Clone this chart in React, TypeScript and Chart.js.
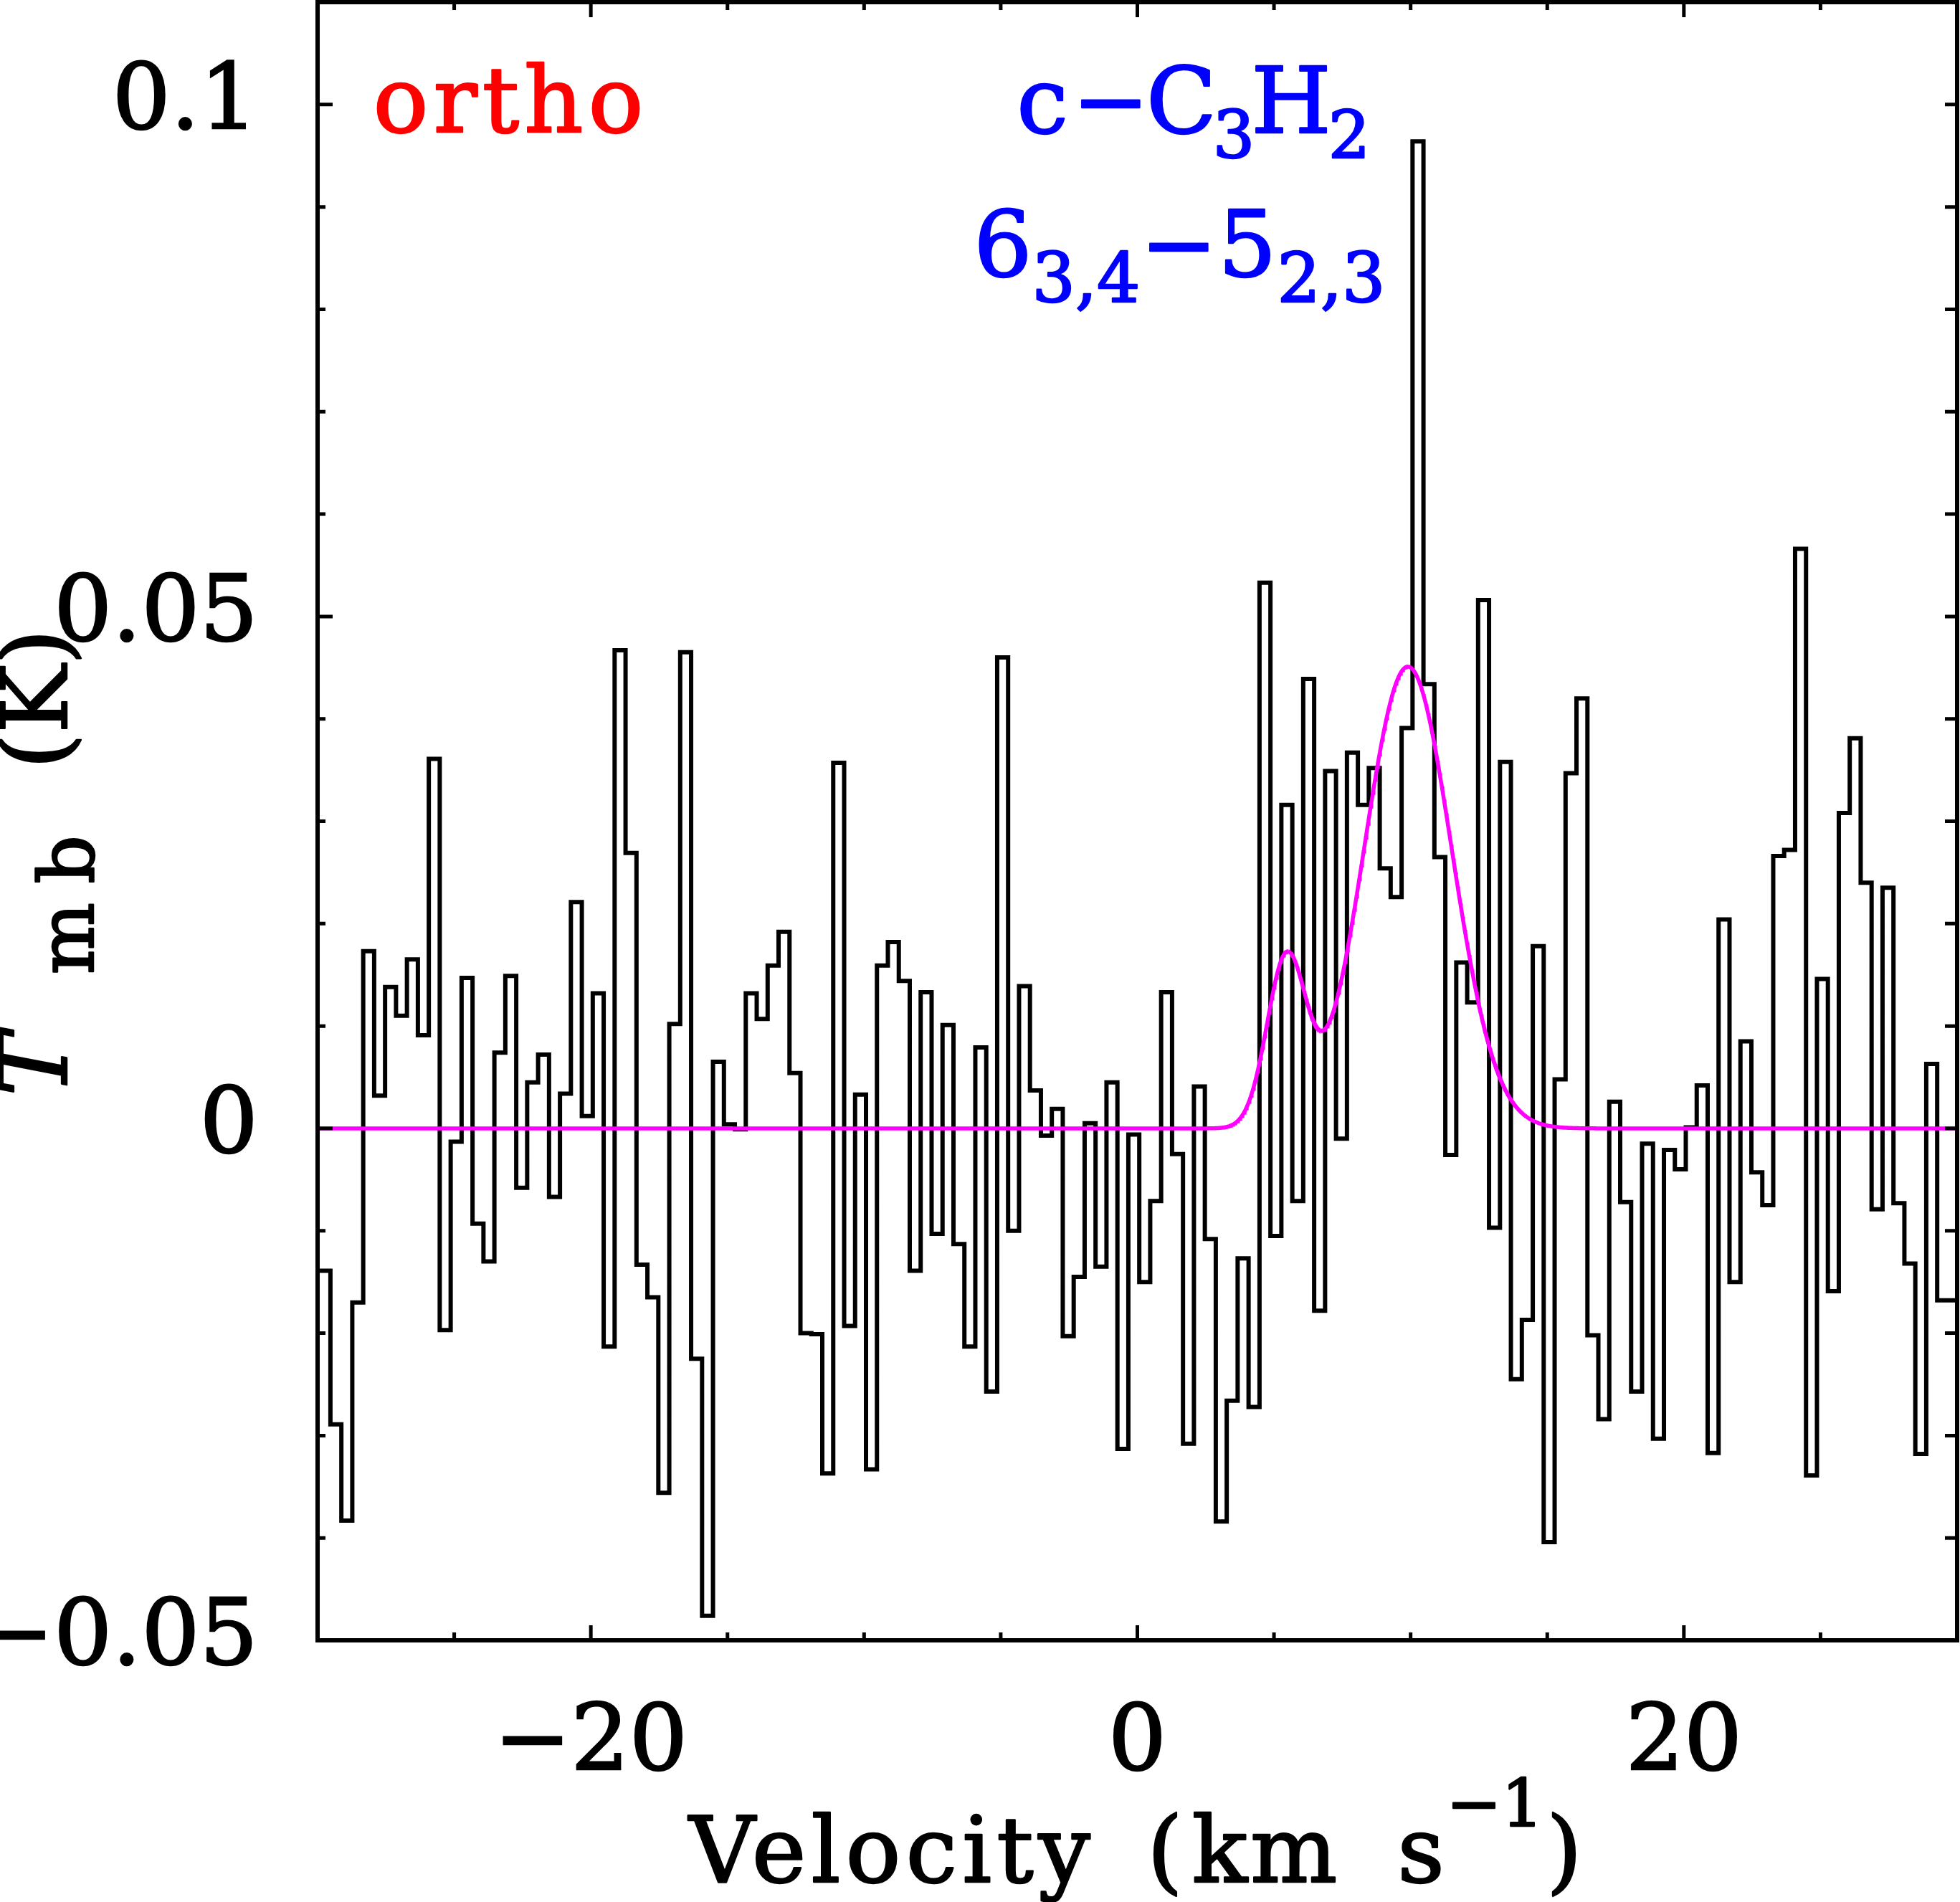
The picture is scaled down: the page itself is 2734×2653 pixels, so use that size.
import { useEffect, useRef } from "react";
import { Chart, registerables } from "chart.js";

Chart.register(...registerables);

const CANVAS_W = 2734;
const CANVAS_H = 2653;
const FONT = '"DejaVu Serif"';

// Channel grid of the spectrum (km/s)
const channelWidth = 0.4;
const firstChannelLeft = -29.93;

// Main-beam temperature per channel (K)
const tmb = [
  -0.0139, -0.0289, -0.0383, -0.017, 0.0173, 0.0032, 0.0138, 0.011, 0.0165, 0.0091,
  0.0361, -0.0197, -0.0013, 0.0147, -0.0093, -0.013, 0.0074, 0.0149, -0.0058, 0.0045,
  0.0072, -0.0067, 0.0034, 0.0221, 0.0012, 0.0132, -0.0213, 0.0467, 0.0269, -0.0133,
  -0.0165, -0.0356, 0.0102, 0.0465, -0.0225, -0.0476, 0.0065, 0.0004, -0.0001, 0.0132,
  0.0107, 0.0159, 0.0192, 0.0054, -0.02, -0.0201, -0.0337, 0.0357, -0.0193, 0.0033,
  -0.0333, 0.0159, 0.0182, 0.0144, -0.0139, 0.0133, -0.0103, 0.0101, -0.0113, -0.0213,
  0.0079, -0.0257, 0.046, -0.01, 0.0139, 0.0037, -0.0007, 0.0019, -0.0203, -0.0145,
  0.0005, -0.0135, 0.0045, -0.0313, -0.0006, -0.015, -0.0071, 0.0133, -0.0025, -0.0308,
  0.0041, -0.0108, -0.0384, -0.0266, -0.0127, -0.0272, 0.0533, -0.0105, 0.0316, -0.0071,
  0.0439, -0.0178, 0.0349, -0.001, 0.0367, 0.0316, 0.0352, 0.0254, 0.0226, 0.0391,
  0.0964, 0.0434, 0.0265, -0.0026, 0.0162, 0.0123, 0.0516, -0.0097, 0.0358, -0.0245,
  -0.0187, 0.0178, -0.0404, 0.0048, 0.0347, 0.042, -0.0202, -0.0284, 0.0026, -0.0072,
  -0.0257, -0.0015, -0.0303, -0.0021, -0.004, 0.0001, 0.0042, -0.0317, 0.0204, -0.015,
  0.0085, -0.0043, -0.0075, 0.0266, 0.0272, 0.0566, -0.0339, 0.0146, -0.0159, 0.0308,
  0.0381, 0.024, -0.0079, 0.0235, -0.0073, -0.0132, -0.0318, 0.0063, -0.0168, -0.0168,
];

// Two-component Gaussian fit: peak (K), centre (km/s), FWHM (km/s)
const fitPeaks = [0.0163, 0.0451];
const fitCenters = [5.45, 9.9];
const fitFwhm = [1.67, 3.77];

// Axes
const xRange = [-30, 30];
const yRange = [-0.05, 0.11];
const xTickValues = [-20, 0, 20];
const xTickLabels = ["\u221220", "0", "20"];
const xMinorTickValues = [-25, -15, -10, -5, 5, 10, 15, 25];
const yTickValues = [-0.05, 0, 0.05, 0.1];
const yTickLabels = ["\u22120.05", "0", "0.05", "0.1"];
const yMinorTickValues = [-0.04, -0.03, -0.02, -0.01, 0.01, 0.02, 0.03, 0.04, 0.06, 0.07, 0.08, 0.09];

function spectrumPoints() {
  const pts = tmb.map((t, i) => ({ x: firstChannelLeft + i * channelWidth, y: t }));
  pts[0].x = Math.min(pts[0].x, xRange[0]);
  pts.push({ x: firstChannelLeft + tmb.length * channelWidth, y: tmb[tmb.length - 1] });
  return pts;
}

function fitPoints() {
  const pts = [];
  const step = 0.02;
  const n = Math.round((xRange[1] - xRange[0]) / step);
  for (let i = 0; i <= n; i++) {
    const v = xRange[0] + i * step;
    let t = 0;
    for (let k = 0; k < fitPeaks.length; k++) {
      const sigma = fitFwhm[k] / 2.3548;
      const d = v - fitCenters[k];
      t += fitPeaks[k] * Math.exp(-(d * d) / (2 * sigma * sigma));
    }
    pts.push({ x: v, y: t });
  }
  return pts;
}

type Piece = {
  text: string;
  cx: number;
  base: number;
  size: number;
  color: string;
  style?: string;
  spacing?: number;
};

function drawPiece(ctx: CanvasRenderingContext2D, p: Piece) {
  const sp = p.spacing ?? 0;
  ctx.font = `${p.style ?? "normal"} ${p.size}px ${FONT}`;
  ctx.fillStyle = p.color;
  ctx.strokeStyle = p.color;
  ctx.lineWidth = 2.5;
  ctx.lineJoin = "round";
  (ctx as any).letterSpacing = `${sp}px`;
  ctx.textAlign = "center";
  ctx.textBaseline = "alphabetic";
  ctx.fillText(p.text, p.cx + sp / 2, p.base);
  ctx.strokeText(p.text, p.cx + sp / 2, p.base);
  (ctx as any).letterSpacing = "0px";
}

const RED = "#ff0000";
const BLUE = "#0000ff";
const BLACK = "#000000";

const labelPieces: Piece[] = [
  { text: "ortho", cx: 709, base: 184, size: 128, color: RED, spacing: 7 },
  { text: "c", cx: 1454, base: 185, size: 128, color: BLUE },
  { text: "\u2212", cx: 1549, base: 185, size: 128, color: BLUE },
  { text: "C", cx: 1648, base: 185, size: 128, color: BLUE },
  { text: "3", cx: 1721, base: 220, size: 92, color: BLUE },
  { text: "H", cx: 1801, base: 185, size: 128, color: BLUE },
  { text: "2", cx: 1882, base: 220, size: 92, color: BLUE },
  { text: "6", cx: 1399, base: 385, size: 128, color: BLUE },
  { text: "3,4", cx: 1515, base: 421, size: 95, color: BLUE },
  { text: "\u2212", cx: 1644, base: 385, size: 128, color: BLUE },
  { text: "5", cx: 1740, base: 385, size: 128, color: BLUE },
  { text: "2,3", cx: 1857, base: 421, size: 95, color: BLUE },
  { text: "Velocity", cx: 1241, base: 2625, size: 128, color: BLACK, spacing: 7 },
  { text: "(", cx: 1625, base: 2625, size: 128, color: BLACK },
  { text: "km", cx: 1764, base: 2625, size: 128, color: BLACK, spacing: 4 },
  { text: "s", cx: 1982, base: 2625, size: 128, color: BLACK },
  { text: "\u22121", cx: 2085, base: 2547, size: 92, color: BLACK },
  { text: ")", cx: 2182, base: 2625, size: 128, color: BLACK },
];

// y-axis title, drawn rotated; cx is the canvas y of each piece centre
const yTitlePieces: Piece[] = [
  { text: "T", cx: 1485, base: 93, size: 132, color: BLACK, style: "italic" },
  { text: "mb", cx: 1262, base: 130, size: 106, color: BLACK, spacing: 26 },
  { text: "(K)", cx: 975, base: 93, size: 128, color: BLACK },
];

const frameAndLabels = {
  id: "frameAndLabels",
  afterDatasetsDraw(chart: any) {
    const { ctx, chartArea: a, scales } = chart;
    const xs = scales.x;
    const ys = scales.y;
    ctx.save();
    ctx.strokeStyle = BLACK;
    ctx.lineWidth = 6;
    ctx.lineCap = "butt";
    ctx.strokeRect(a.left, a.top, a.right - a.left, a.bottom - a.top);

    const major = 21;
    const minor = 11;
    const rightLen = 17;
    ctx.lineWidth = 5;
    ctx.beginPath();
    const xTick = (v: number, len: number) => {
      const px = xs.getPixelForValue(v);
      ctx.moveTo(px, a.bottom);
      ctx.lineTo(px, a.bottom - len);
      ctx.moveTo(px, a.top);
      ctx.lineTo(px, a.top + len);
    };
    const yTick = (v: number, len: number) => {
      const py = ys.getPixelForValue(v);
      ctx.moveTo(a.left, py);
      ctx.lineTo(a.left + len, py);
      ctx.moveTo(a.right, py);
      ctx.lineTo(a.right - rightLen, py);
    };
    xTickValues.forEach((v) => xTick(v, major));
    xMinorTickValues.forEach((v) => xTick(v, minor));
    yTickValues.forEach((v) => yTick(v, major));
    yMinorTickValues.forEach((v) => yTick(v, minor));
    ctx.stroke();
    ctx.restore();
  },
  afterDraw(chart: any) {
    const { ctx } = chart;
    ctx.save();
    labelPieces.forEach((p) => drawPiece(ctx, p));
    for (const p of yTitlePieces) {
      ctx.save();
      ctx.translate(p.base, p.cx);
      ctx.rotate(-Math.PI / 2);
      drawPiece(ctx, { ...p, cx: 0, base: 0 });
      ctx.restore();
    }
    ctx.restore();
  },
};

export default function App() {
  const canvasRef = useRef<HTMLCanvasElement | null>(null);

  useEffect(() => {
    const canvas = canvasRef.current;
    if (!canvas) return;
    const tickFont = { family: FONT, size: 128 };
    const chart = new Chart(canvas, {
      type: "line",
      data: {
        datasets: [
          {
            label: "Gaussian fit",
            data: fitPoints(),
            borderColor: "#ff00ff",
            borderWidth: 5.5,
            pointRadius: 0,
            tension: 0,
            order: 0,
            clip: 0,
          },
          {
            label: "c-C3H2 spectrum",
            data: spectrumPoints(),
            stepped: true,
            borderColor: BLACK,
            borderWidth: 6,
            borderJoinStyle: "miter",
            pointRadius: 0,
            order: 1,
            clip: 0,
          },
        ],
      },
      options: {
        responsive: false,
        animation: false,
        devicePixelRatio: 1,
        events: [],
        layout: { padding: { top: 3, right: 4, left: 0, bottom: 0 } },
        plugins: {
          legend: { display: false },
          tooltip: { enabled: false },
          title: { display: false },
        },
        scales: {
          x: {
            type: "linear",
            position: "bottom",
            min: xRange[0],
            max: xRange[1],
            grid: { display: false, drawTicks: false },
            border: { display: false },
            ticks: {
              font: tickFont,
              color: BLACK,
              textStrokeColor: BLACK,
              textStrokeWidth: 2.5,
              padding: 70,
              autoSkip: false,
              maxRotation: 0,
              callback: (_v: any, i: number) => xTickLabels[i],
            },
            afterBuildTicks: (s: any) => {
              s.ticks = xTickValues.map((v) => ({ value: v }));
            },
            afterFit: (s: any) => {
              s.height = CANVAS_H - 2288;
              s.paddingLeft = 0;
              s.paddingRight = 0;
            },
          },
          y: {
            type: "linear",
            position: "left",
            min: yRange[0],
            max: yRange[1],
            grid: { display: false, drawTicks: false },
            border: { display: false },
            ticks: {
              font: tickFont,
              color: BLACK,
              textStrokeColor: BLACK,
              textStrokeWidth: 2.5,
              padding: 83,
              autoSkip: false,
              callback: (_v: any, i: number) => yTickLabels[i],
            },
            afterBuildTicks: (s: any) => {
              s.ticks = yTickValues.map((v) => ({ value: v }));
            },
            afterFit: (s: any) => {
              s.width = 443;
              s.paddingTop = 0;
              s.paddingBottom = 0;
            },
          },
        },
      } as any,
      plugins: [frameAndLabels],
    });
    return () => chart.destroy();
  }, []);

  return (
    <div style={{ position: "absolute", left: 0, top: 0, width: CANVAS_W, height: CANVAS_H, background: "#fff" }}>
      <canvas ref={canvasRef} width={CANVAS_W} height={CANVAS_H} style={{ display: "block" }} />
    </div>
  );
}
